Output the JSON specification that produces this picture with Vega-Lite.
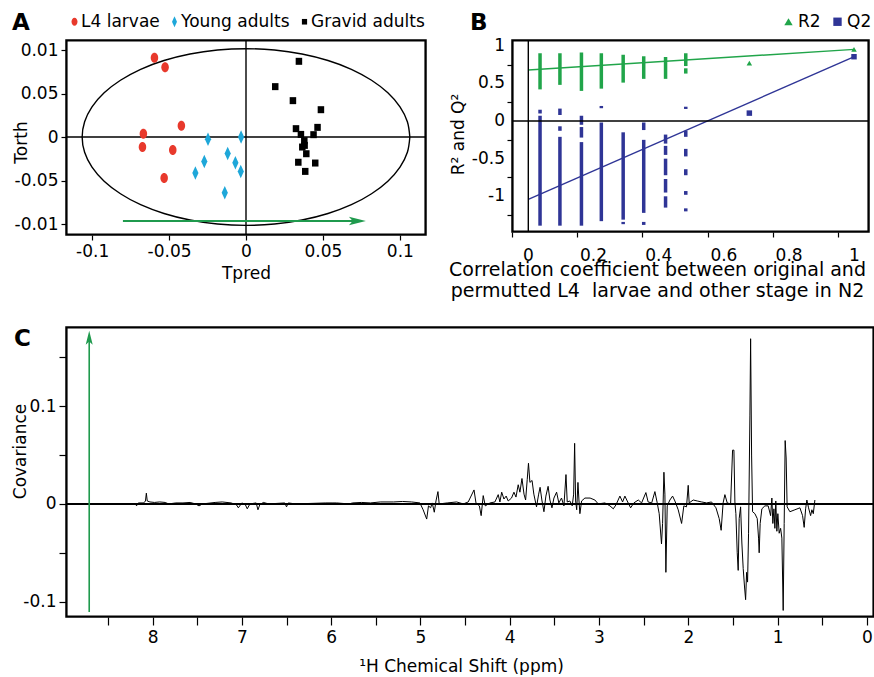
{
  "$schema": "https://vega.github.io/schema/vega-lite/v6.json",
  "padding": {"left": 10, "top": 11, "right": 0, "bottom": 0},
  "background": "white",
  "config": {
    "font": "DejaVu Sans",
    "view": {"stroke": "black", "strokeWidth": 1.5},
    "axis": {"grid": false, "domain": false, "tickColor": "black", "tickWidth": 1.2, "tickSize": 5, "labelFont": "DejaVu Sans", "labelFontSize": 17, "labelColor": "black", "titleFont": "DejaVu Sans", "titleFontSize": 17, "titleFontWeight": "normal", "titleColor": "black", "labelPadding": 3, "labelOverlap": false, "labelBound": false, "labelFlush": false, "titleBaseline": "alphabetic"},
    "legend": {"labelFont": "DejaVu Sans", "labelFontSize": 17, "labelColor": "black", "symbolStrokeWidth": 0, "symbolOpacity": 1, "columnPadding": 8, "labelOffset": 2},
    "title": {"font": "DejaVu Sans", "fontSize": 23, "fontWeight": "bold", "color": "black", "anchor": "start", "frame": "group", "baseline": "alphabetic"}
  },
  "datasets": {
    "ellipse": [
      {"i": 0, "tpred": 0.1065, "torth": 0},
      {"i": 1, "tpred": 0.1049, "torth": 0.0176},
      {"i": 2, "tpred": 0.1001, "torth": 0.0347},
      {"i": 3, "tpred": 0.0922, "torth": 0.0508},
      {"i": 4, "tpred": 0.0816, "torth": 0.0652},
      {"i": 5, "tpred": 0.0685, "torth": 0.0778},
      {"i": 6, "tpred": 0.0533, "torth": 0.0879},
      {"i": 7, "tpred": 0.0364, "torth": 0.0954},
      {"i": 8, "tpred": 0.0185, "torth": 0.1000},
      {"i": 9, "tpred": 0, "torth": 0.1015},
      {"i": 10, "tpred": -0.0185, "torth": 0.1000},
      {"i": 11, "tpred": -0.0364, "torth": 0.0954},
      {"i": 12, "tpred": -0.0533, "torth": 0.0879},
      {"i": 13, "tpred": -0.0685, "torth": 0.0778},
      {"i": 14, "tpred": -0.0816, "torth": 0.0652},
      {"i": 15, "tpred": -0.0922, "torth": 0.0508},
      {"i": 16, "tpred": -0.1001, "torth": 0.0347},
      {"i": 17, "tpred": -0.1049, "torth": 0.0176},
      {"i": 18, "tpred": -0.1065, "torth": 0},
      {"i": 19, "tpred": -0.1049, "torth": -0.0176},
      {"i": 20, "tpred": -0.1001, "torth": -0.0347},
      {"i": 21, "tpred": -0.0922, "torth": -0.0508},
      {"i": 22, "tpred": -0.0816, "torth": -0.0652},
      {"i": 23, "tpred": -0.0685, "torth": -0.0778},
      {"i": 24, "tpred": -0.0533, "torth": -0.0879},
      {"i": 25, "tpred": -0.0364, "torth": -0.0954},
      {"i": 26, "tpred": -0.0185, "torth": -0.1000},
      {"i": 27, "tpred": 0, "torth": -0.1015},
      {"i": 28, "tpred": 0.0185, "torth": -0.1000},
      {"i": 29, "tpred": 0.0364, "torth": -0.0954},
      {"i": 30, "tpred": 0.0533, "torth": -0.0879},
      {"i": 31, "tpred": 0.0685, "torth": -0.0778},
      {"i": 32, "tpred": 0.0816, "torth": -0.0652},
      {"i": 33, "tpred": 0.0922, "torth": -0.0508},
      {"i": 34, "tpred": 0.1001, "torth": -0.0347},
      {"i": 35, "tpred": 0.1049, "torth": -0.0176},
      {"i": 36, "tpred": 0.1065, "torth": 0}
    ],
    "scores": [
      {"stage": "L4 larvae", "tpred": -0.0595, "torth": 0.0911},
      {"stage": "L4 larvae", "tpred": -0.0526, "torth": 0.0801},
      {"stage": "L4 larvae", "tpred": -0.0420, "torth": 0.0130},
      {"stage": "L4 larvae", "tpred": -0.0667, "torth": 0.0038},
      {"stage": "L4 larvae", "tpred": -0.0673, "torth": -0.0115},
      {"stage": "L4 larvae", "tpred": -0.0476, "torth": -0.0149},
      {"stage": "L4 larvae", "tpred": -0.0532, "torth": -0.0471},
      {"stage": "Young adults", "tpred": -0.0247, "torth": -0.0027},
      {"stage": "Young adults", "tpred": -0.0032, "torth": 0.0000},
      {"stage": "Young adults", "tpred": -0.0119, "torth": -0.0190},
      {"stage": "Young adults", "tpred": -0.0271, "torth": -0.0280},
      {"stage": "Young adults", "tpred": -0.0069, "torth": -0.0295},
      {"stage": "Young adults", "tpred": -0.0329, "torth": -0.0414},
      {"stage": "Young adults", "tpred": -0.0034, "torth": -0.0395},
      {"stage": "Young adults", "tpred": -0.0138, "torth": -0.0640},
      {"stage": "Gravid adults", "tpred": 0.0344, "torth": 0.0870},
      {"stage": "Gravid adults", "tpred": 0.0190, "torth": 0.0579},
      {"stage": "Gravid adults", "tpred": 0.0305, "torth": 0.0418},
      {"stage": "Gravid adults", "tpred": 0.0487, "torth": 0.0314},
      {"stage": "Gravid adults", "tpred": 0.0325, "torth": 0.0096},
      {"stage": "Gravid adults", "tpred": 0.0465, "torth": 0.0111},
      {"stage": "Gravid adults", "tpred": 0.0357, "torth": 0.0030},
      {"stage": "Gravid adults", "tpred": 0.0439, "torth": 0.0027},
      {"stage": "Gravid adults", "tpred": 0.0379, "torth": -0.0042},
      {"stage": "Gravid adults", "tpred": 0.0381, "torth": -0.0096},
      {"stage": "Gravid adults", "tpred": 0.0366, "torth": -0.0115},
      {"stage": "Gravid adults", "tpred": 0.0392, "torth": -0.0192},
      {"stage": "Gravid adults", "tpred": 0.0340, "torth": -0.0290},
      {"stage": "Gravid adults", "tpred": 0.0450, "torth": -0.0299},
      {"stage": "Gravid adults", "tpred": 0.0385, "torth": -0.0395}
    ],
    "r2seg": [
      {"r": 0.036, "value": 0.42, "value2": 0.90},
      {"r": 0.097, "value": 0.48, "value2": 0.90},
      {"r": 0.163, "value": 0.40, "value2": 0.91},
      {"r": 0.224, "value": 0.43, "value2": 0.90},
      {"r": 0.291, "value": 0.51, "value2": 0.88},
      {"r": 0.354, "value": 0.56, "value2": 0.86},
      {"r": 0.421, "value": 0.56, "value2": 0.85},
      {"r": 0.483, "value": 0.63, "value2": 0.70},
      {"r": 0.483, "value": 0.73, "value2": 0.90}
    ],
    "q2seg": [
      {"r": 0.036, "value": 0.10, "value2": 0.15},
      {"r": 0.036, "value": -1.39, "value2": 0.07},
      {"r": 0.097, "value": 0.08, "value2": 0.165},
      {"r": 0.097, "value": -0.13, "value2": -0.07},
      {"r": 0.097, "value": -1.39, "value2": -0.21},
      {"r": 0.163, "value": -0.05, "value2": 0.07},
      {"r": 0.163, "value": -0.22, "value2": -0.08},
      {"r": 0.163, "value": -1.39, "value2": -0.28},
      {"r": 0.224, "value": 0.17, "value2": 0.20},
      {"r": 0.224, "value": -1.33, "value2": -0.02},
      {"r": 0.291, "value": -1.31, "value2": -0.15},
      {"r": 0.291, "value": -1.37, "value2": -1.34},
      {"r": 0.354, "value": -0.12, "value2": -0.02},
      {"r": 0.354, "value": -1.22, "value2": -0.25},
      {"r": 0.354, "value": -1.38, "value2": -1.34},
      {"r": 0.421, "value": -0.30, "value2": -0.18},
      {"r": 0.421, "value": -0.45, "value2": -0.33},
      {"r": 0.421, "value": -0.72, "value2": -0.50},
      {"r": 0.421, "value": -0.95, "value2": -0.77},
      {"r": 0.421, "value": -1.15, "value2": -1.00},
      {"r": 0.483, "value": 0.16, "value2": 0.19},
      {"r": 0.483, "value": -0.21, "value2": -0.13},
      {"r": 0.483, "value": -0.47, "value2": -0.37},
      {"r": 0.483, "value": -0.72, "value2": -0.64},
      {"r": 0.483, "value": -0.98, "value2": -0.93},
      {"r": 0.483, "value": -1.20, "value2": -1.16}
    ],
    "perm": [
      {"series": "R2", "r": 0.678, "value": 0.77},
      {"series": "R2", "r": 0.999, "value": 0.952},
      {"series": "Q2", "r": 0.678, "value": 0.105},
      {"series": "Q2", "r": 0.999, "value": 0.854}
    ],
    "fits": [
      {"series": "R2", "r": 0, "value": 0.677},
      {"series": "R2", "r": 1, "value": 0.952},
      {"series": "Q2", "r": 0, "value": -1.04},
      {"series": "Q2", "r": 1, "value": 0.854}
    ],
    "bxticks": [
      {"tick": 0, "label": "0"}, {"tick": 0.2, "label": "0.2"}, {"tick": 0.4, "label": "0.4"},
      {"tick": 0.6, "label": "0.6"}, {"tick": 0.8, "label": "0.8"}, {"tick": 1, "label": "1"}
    ],
    "byticks": [
      {"tick": -1, "label": "-1"}, {"tick": -0.5, "label": "-0.5"}, {"tick": 0, "label": "0"},
      {"tick": 0.5, "label": "0.5"}, {"tick": 1, "label": "1"}
    ],
    "spectrum": [
      {"ppm": 8.19, "cov": 0}, {"ppm": 8.18, "cov": -0.002}, {"ppm": 8.16, "cov": 0.001}, {"ppm": 8.1, "cov": 0.001},
      {"ppm": 8.08, "cov": 0.003}, {"ppm": 8.07, "cov": 0.011}, {"ppm": 8.06, "cov": 0.003}, {"ppm": 8.03, "cov": 0.002},
      {"ppm": 7.98, "cov": 0.0015}, {"ppm": 7.92, "cov": 0.002}, {"ppm": 7.86, "cov": 0.0015}, {"ppm": 7.82, "cov": 0},
      {"ppm": 7.74, "cov": 0.001}, {"ppm": 7.66, "cov": 0.001}, {"ppm": 7.58, "cov": 0.0015}, {"ppm": 7.52, "cov": 0},
      {"ppm": 7.48, "cov": -0.002}, {"ppm": 7.44, "cov": 0}, {"ppm": 7.3, "cov": 0.0015}, {"ppm": 7.22, "cov": 0.002},
      {"ppm": 7.12, "cov": 0.001}, {"ppm": 7.06, "cov": -0.001}, {"ppm": 7.04, "cov": -0.004}, {"ppm": 7.0, "cov": 0.001},
      {"ppm": 6.96, "cov": -0.001}, {"ppm": 6.94, "cov": -0.005}, {"ppm": 6.91, "cov": 0}, {"ppm": 6.84, "cov": 0.001},
      {"ppm": 6.82, "cov": -0.006}, {"ppm": 6.8, "cov": -0.001}, {"ppm": 6.76, "cov": 0.0015}, {"ppm": 6.7, "cov": 0},
      {"ppm": 6.52, "cov": 0.001}, {"ppm": 6.5, "cov": -0.003}, {"ppm": 6.48, "cov": 0.001}, {"ppm": 6.4, "cov": 0},
      {"ppm": 6.06, "cov": 0.001}, {"ppm": 5.98, "cov": 0.001}, {"ppm": 5.94, "cov": 0.001}, {"ppm": 5.8, "cov": 0},
      {"ppm": 5.76, "cov": 0.001}, {"ppm": 5.66, "cov": 0.0015}, {"ppm": 5.56, "cov": 0.001}, {"ppm": 5.45, "cov": 0.002},
      {"ppm": 5.3, "cov": 0.002}, {"ppm": 5.2, "cov": 0.0025}, {"ppm": 5.1, "cov": 0.002}, {"ppm": 5.006, "cov": 0.001},
      {"ppm": 4.97, "cov": -0.006}, {"ppm": 4.93, "cov": -0.0155}, {"ppm": 4.91, "cov": -0.002}, {"ppm": 4.886, "cov": -0.004},
      {"ppm": 4.868, "cov": 0.001}, {"ppm": 4.845, "cov": -0.0085}, {"ppm": 4.826, "cov": 0.003}, {"ppm": 4.804, "cov": 0.0126},
      {"ppm": 4.79, "cov": 0}, {"ppm": 4.7, "cov": 0.001}, {"ppm": 4.595, "cov": 0.002}, {"ppm": 4.52, "cov": 0},
      {"ppm": 4.465, "cov": 0.002}, {"ppm": 4.40, "cov": 0.0143}, {"ppm": 4.378, "cov": 0.001}, {"ppm": 4.34, "cov": -0.002},
      {"ppm": 4.32, "cov": -0.012}, {"ppm": 4.297, "cov": 0.0085}, {"ppm": 4.274, "cov": -0.002}, {"ppm": 4.22, "cov": 0.001},
      {"ppm": 4.166, "cov": 0.002}, {"ppm": 4.129, "cov": 0.0095}, {"ppm": 4.11, "cov": 0.002}, {"ppm": 4.09, "cov": 0.012},
      {"ppm": 4.065, "cov": 0.005}, {"ppm": 4.04, "cov": 0.008}, {"ppm": 4.017, "cov": 0.003}, {"ppm": 3.98, "cov": 0.006},
      {"ppm": 3.953, "cov": 0.012}, {"ppm": 3.93, "cov": 0.007}, {"ppm": 3.905, "cov": 0.0196}, {"ppm": 3.886, "cov": 0.012},
      {"ppm": 3.863, "cov": 0.026}, {"ppm": 3.84, "cov": 0.01}, {"ppm": 3.822, "cov": 0.004}, {"ppm": 3.804, "cov": 0.025},
      {"ppm": 3.79, "cov": 0.0416}, {"ppm": 3.774, "cov": 0.022}, {"ppm": 3.75, "cov": 0.024}, {"ppm": 3.73, "cov": 0.01},
      {"ppm": 3.70, "cov": -0.003}, {"ppm": 3.676, "cov": 0.01}, {"ppm": 3.66, "cov": 0.017}, {"ppm": 3.64, "cov": 0.004},
      {"ppm": 3.617, "cov": -0.008}, {"ppm": 3.595, "cov": 0.008}, {"ppm": 3.57, "cov": 0.018}, {"ppm": 3.55, "cov": 0.004},
      {"ppm": 3.527, "cov": -0.004}, {"ppm": 3.505, "cov": 0.006}, {"ppm": 3.475, "cov": 0.012}, {"ppm": 3.45, "cov": 0.001},
      {"ppm": 3.42, "cov": 0.006}, {"ppm": 3.393, "cov": -0.002}, {"ppm": 3.37, "cov": 0.030}, {"ppm": 3.356, "cov": 0.002},
      {"ppm": 3.326, "cov": 0.003}, {"ppm": 3.30, "cov": -0.002}, {"ppm": 3.284, "cov": 0.01}, {"ppm": 3.273, "cov": 0.062},
      {"ppm": 3.262, "cov": 0.003}, {"ppm": 3.25, "cov": -0.006}, {"ppm": 3.236, "cov": 0.022}, {"ppm": 3.225, "cov": 0.004},
      {"ppm": 3.214, "cov": -0.010}, {"ppm": 3.195, "cov": 0.003}, {"ppm": 3.158, "cov": 0.006}, {"ppm": 3.10, "cov": 0.006},
      {"ppm": 3.046, "cov": 0.004}, {"ppm": 3.009, "cov": 0}, {"ppm": 2.934, "cov": 0.001}, {"ppm": 2.878, "cov": -0.002},
      {"ppm": 2.84, "cov": -0.005}, {"ppm": 2.81, "cov": -0.001}, {"ppm": 2.766, "cov": 0.008}, {"ppm": 2.736, "cov": 0.002},
      {"ppm": 2.71, "cov": 0.008}, {"ppm": 2.684, "cov": 0.003}, {"ppm": 2.646, "cov": -0.004}, {"ppm": 2.61, "cov": 0.001},
      {"ppm": 2.56, "cov": 0.004}, {"ppm": 2.523, "cov": 0.001}, {"ppm": 2.475, "cov": 0.0116}, {"ppm": 2.45, "cov": 0.002},
      {"ppm": 2.41, "cov": 0.001}, {"ppm": 2.374, "cov": 0.0126}, {"ppm": 2.348, "cov": 0.001}, {"ppm": 2.326, "cov": -0.01},
      {"ppm": 2.30, "cov": -0.041}, {"ppm": 2.288, "cov": -0.02}, {"ppm": 2.273, "cov": 0.0324}, {"ppm": 2.262, "cov": 0.01},
      {"ppm": 2.251, "cov": -0.070}, {"ppm": 2.236, "cov": -0.002}, {"ppm": 2.206, "cov": 0.004}, {"ppm": 2.176, "cov": 0.008},
      {"ppm": 2.15, "cov": 0.003}, {"ppm": 2.113, "cov": -0.006}, {"ppm": 2.075, "cov": -0.020}, {"ppm": 2.05, "cov": -0.002},
      {"ppm": 2.02, "cov": -0.003}, {"ppm": 2.001, "cov": 0.019}, {"ppm": 1.99, "cov": 0.001}, {"ppm": 1.945, "cov": 0.004},
      {"ppm": 1.90, "cov": 0.003}, {"ppm": 1.85, "cov": 0.002}, {"ppm": 1.795, "cov": 0.001}, {"ppm": 1.74, "cov": 0.002},
      {"ppm": 1.69, "cov": -0.004}, {"ppm": 1.654, "cov": -0.015}, {"ppm": 1.632, "cov": -0.027}, {"ppm": 1.61, "cov": 0.001},
      {"ppm": 1.59, "cov": 0.0095}, {"ppm": 1.564, "cov": 0.001}, {"ppm": 1.526, "cov": 0}, {"ppm": 1.504, "cov": 0.055},
      {"ppm": 1.489, "cov": 0.055}, {"ppm": 1.478, "cov": 0.002}, {"ppm": 1.467, "cov": -0.01}, {"ppm": 1.452, "cov": -0.05},
      {"ppm": 1.441, "cov": -0.068}, {"ppm": 1.43, "cov": -0.015}, {"ppm": 1.414, "cov": -0.003}, {"ppm": 1.40, "cov": -0.04},
      {"ppm": 1.385, "cov": -0.066}, {"ppm": 1.37, "cov": -0.085}, {"ppm": 1.358, "cov": -0.098}, {"ppm": 1.347, "cov": -0.07},
      {"ppm": 1.336, "cov": -0.08}, {"ppm": 1.325, "cov": -0.03}, {"ppm": 1.31, "cov": 0.09}, {"ppm": 1.302, "cov": 0.169},
      {"ppm": 1.291, "cov": 0.05}, {"ppm": 1.28, "cov": -0.008}, {"ppm": 1.254, "cov": -0.01}, {"ppm": 1.228, "cov": -0.015},
      {"ppm": 1.213, "cov": -0.035}, {"ppm": 1.206, "cov": -0.050}, {"ppm": 1.195, "cov": -0.02}, {"ppm": 1.176, "cov": -0.005},
      {"ppm": 1.142, "cov": -0.002}, {"ppm": 1.105, "cov": -0.002}, {"ppm": 1.078, "cov": -0.012}, {"ppm": 1.064, "cov": 0.006},
      {"ppm": 1.053, "cov": -0.02}, {"ppm": 1.041, "cov": -0.005}, {"ppm": 1.03, "cov": -0.025}, {"ppm": 1.02, "cov": 0.003},
      {"ppm": 1.008, "cov": -0.028}, {"ppm": 0.997, "cov": -0.01}, {"ppm": 0.982, "cov": -0.03}, {"ppm": 0.966, "cov": -0.025},
      {"ppm": 0.952, "cov": -0.035}, {"ppm": 0.937, "cov": -0.109}, {"ppm": 0.926, "cov": -0.02}, {"ppm": 0.915, "cov": 0.0648},
      {"ppm": 0.904, "cov": 0.047}, {"ppm": 0.893, "cov": -0.003}, {"ppm": 0.862, "cov": -0.008}, {"ppm": 0.806, "cov": -0.006},
      {"ppm": 0.75, "cov": -0.004}, {"ppm": 0.72, "cov": -0.012}, {"ppm": 0.702, "cov": -0.024}, {"ppm": 0.686, "cov": -0.005},
      {"ppm": 0.672, "cov": 0.004}, {"ppm": 0.653, "cov": -0.004}, {"ppm": 0.63, "cov": -0.012}, {"ppm": 0.616, "cov": -0.006},
      {"ppm": 0.60, "cov": -0.01}, {"ppm": 0.582, "cov": 0.004}
    ]
  },
  "vconcat": [
    {
      "hconcat": [
        {
          "width": 360,
          "height": 195,
          "title": {"text": "A", "dx": -54, "dy": 25, "offset": 3},
          "layer": [
            {
              "data": {"name": "ellipse"},
              "mark": {"type": "line", "color": "black", "strokeWidth": 1.4, "interpolate": "catmull-rom"},
              "encoding": {
                "x": {"field": "tpred", "type": "quantitative", "title": "Tpred",
                  "scale": {"domain": [-0.117, 0.117], "nice": false, "zero": false},
                  "axis": {"values": [-0.1, -0.05, 0, 0.05, 0.1],
                    "labelExpr": "(datum.value < 0 ? '-' : '') + format(abs(datum.value), '~g')",
                    "titleX": 180, "titleY": 43, "labelPadding": 3}},
                "y": {"field": "torth", "type": "quantitative", "title": "Torth",
                  "scale": {"domain": [-0.1126, 0.1115], "nice": false, "zero": false},
                  "axis": {"values": [-0.1, -0.075, -0.05, -0.025, 0, 0.025, 0.05, 0.075, 0.1],
                    "labelExpr": "datum.value == 0.1 ? '0.01' : datum.value == -0.1 ? '-0.01' : (datum.value == 0.05 || datum.value == -0.05 || datum.value == 0) ? (datum.value < 0 ? '-' : '') + format(abs(datum.value), '~g') : ''",
                    "titleX": -40, "titleY": 102}},
                "order": {"field": "i", "type": "quantitative"}
              }
            },
            {"data": {"values": [{}]}, "mark": {"type": "rule", "color": "black", "strokeWidth": 1.4}, "encoding": {"x": {"datum": 0, "type": "quantitative"}}},
            {"data": {"values": [{}]}, "mark": {"type": "rule", "color": "black", "strokeWidth": 1.4}, "encoding": {"y": {"datum": 0, "type": "quantitative"}}},
            {
              "data": {"values": [{}]},
              "mark": {"type": "rule", "color": "#1f9a4d", "strokeWidth": 2},
              "encoding": {"x": {"datum": -0.080, "type": "quantitative"}, "x2": {"datum": 0.072}, "y": {"datum": -0.0966, "type": "quantitative"}}
            },
            {
              "data": {"values": [{}]},
              "mark": {"type": "point", "filled": true, "color": "#1f9a4d", "opacity": 1, "size": 289, "shape": "M-1,-0.5 L1,0 L-1,0.5 L-0.55,0 Z"},
              "encoding": {"x": {"datum": 0.0724, "type": "quantitative"}, "y": {"datum": -0.0966, "type": "quantitative"}}
            },
            {
              "data": {"name": "scores"},
              "mark": {"type": "point", "filled": true, "opacity": 1, "size": 100, "strokeWidth": 0},
              "encoding": {
                "x": {"field": "tpred", "type": "quantitative", "title": "Tpred"},
                "y": {"field": "torth", "type": "quantitative", "title": "Torth"},
                "color": {"field": "stage", "type": "nominal",
                  "scale": {"domain": ["L4 larvae", "Young adults", "Gravid adults"], "range": ["#e8392c", "#1ea7d9", "#000000"]},
                  "legend": {"title": null, "orient": "none", "legendX": 0, "legendY": -27, "direction": "horizontal", "symbolSize": 64, "labelOffset": -2, "columnPadding": 6}},
                "shape": {"field": "stage", "type": "nominal",
                  "scale": {"domain": ["L4 larvae", "Young adults", "Gravid adults"], "range": ["M0,-1 A0.75,1 0 1,1 0,1 A0.75,1 0 1,1 0,-1 Z", "M0,-1.35 L0.62,0 L0,1.35 L-0.62,0 Z", "M-0.65,-0.7 L0.65,-0.7 L0.65,0.7 L-0.65,0.7 Z"]},
                  "legend": {"title": null, "orient": "none", "legendX": 0, "legendY": -27, "direction": "horizontal", "symbolSize": 64, "labelOffset": -2, "columnPadding": 6}}
              }
            },
            {"data": {"values": [{}]}, "mark": {"type": "rule", "color": "black", "strokeWidth": 1.6}, "encoding": {"x": {"datum": -0.11648, "type": "quantitative"}}},
            {"data": {"values": [{}]}, "mark": {"type": "rule", "color": "black", "strokeWidth": 1.6}, "encoding": {"x": {"datum": 0.11648, "type": "quantitative"}}},
            {"data": {"values": [{}]}, "mark": {"type": "rule", "color": "black", "strokeWidth": 1.6}, "encoding": {"y": {"datum": -0.11168, "type": "quantitative"}}},
            {"data": {"values": [{}]}, "mark": {"type": "rule", "color": "black", "strokeWidth": 1.6}, "encoding": {"y": {"datum": 0.11058, "type": "quantitative"}}}
          ]
        },
        {
          "width": 357,
          "height": 192,
          "title": {"text": "B", "dx": -42, "dy": 25, "offset": 3},
          "layer": [
            {
              "data": {"name": "fits"},
              "transform": [{"filter": "datum.series == 'R2'"}],
              "mark": {"type": "line", "color": "#21a54a", "strokeWidth": 1.4},
              "encoding": {
                "x": {"field": "r", "type": "quantitative",
                  "title": ["Correlation coefficient between original and", "permutted L4\u00a0 larvae and other stage in N2"],
                  "scale": {"domain": [-0.05, 1.045], "nice": false, "zero": false},
                  "axis": {"values": [-0.05, 0, 0.05, 0.1, 0.15, 0.2, 0.25, 0.3, 0.35, 0.4, 0.45, 0.5, 0.55, 0.6, 0.65, 0.7, 0.75, 0.8, 0.85, 0.9, 0.95, 1],
                    "labels": false,
                    "titleX": 145, "titleY": 43, "titleLineHeight": 21, "titleFontSize": 19}},
                "y": {"field": "value", "type": "quantitative", "title": "R² and Q²",
                  "scale": {"domain": [-1.474, 1.076], "nice": false, "zero": false},
                  "axis": {"values": [-1.25, -1, -0.75, -0.5, -0.25, 0, 0.25, 0.5, 0.75, 1],
                    "labels": false, "titleX": -49, "titleY": 94}}
              }
            },
            {
              "data": {"name": "r2seg"},
              "mark": {"type": "rule", "color": "#21a54a", "strokeWidth": 3.5},
              "encoding": {
                "x": {"field": "r", "type": "quantitative", "title": ["Correlation coefficient between original and", "permutted L4\u00a0 larvae and other stage in N2"]},
                "y": {"field": "value", "type": "quantitative", "title": "R² and Q²"},
                "y2": {"field": "value2"}
              }
            },
            {
              "data": {"name": "q2seg"},
              "mark": {"type": "rule", "color": "#2f3596", "strokeWidth": 3.5},
              "encoding": {
                "x": {"field": "r", "type": "quantitative", "title": ["Correlation coefficient between original and", "permutted L4\u00a0 larvae and other stage in N2"]},
                "y": {"field": "value", "type": "quantitative", "title": "R² and Q²"},
                "y2": {"field": "value2"}
              }
            },
            {
              "data": {"name": "fits"},
              "transform": [{"filter": "datum.series == 'Q2'"}],
              "mark": {"type": "line", "color": "#2f3596", "strokeWidth": 1.4},
              "encoding": {
                "x": {"field": "r", "type": "quantitative", "title": ["Correlation coefficient between original and", "permutted L4\u00a0 larvae and other stage in N2"]},
                "y": {"field": "value", "type": "quantitative", "title": "R² and Q²"}
              }
            },
            {
              "data": {"name": "perm"},
              "mark": {"type": "point", "filled": true, "opacity": 1, "size": 30, "strokeWidth": 0},
              "encoding": {
                "x": {"field": "r", "type": "quantitative", "title": ["Correlation coefficient between original and", "permutted L4\u00a0 larvae and other stage in N2"]},
                "y": {"field": "value", "type": "quantitative", "title": "R² and Q²"},
                "color": {"field": "series", "type": "nominal",
                  "scale": {"domain": ["R2", "Q2"], "range": ["#21a54a", "#2f3596"]},
                  "legend": {"title": null, "orient": "none", "legendX": 268, "legendY": -27, "direction": "horizontal", "symbolSize": 70, "labelOffset": 1, "columnPadding": 8}},
                "shape": {"field": "series", "type": "nominal",
                  "scale": {"domain": ["R2", "Q2"], "range": ["triangle-up", "square"]},
                  "legend": {"title": null, "orient": "none", "legendX": 268, "legendY": -27, "direction": "horizontal", "symbolSize": 70, "labelOffset": 1, "columnPadding": 8}}
              }
            },
            {
              "data": {"name": "bxticks"},
              "mark": {"type": "text", "font": "DejaVu Sans", "fontSize": 17, "color": "black", "align": "center", "baseline": "top", "dy": 16},
              "encoding": {
                "x": {"field": "tick", "type": "quantitative", "title": ["Correlation coefficient between original and", "permutted L4\u00a0 larvae and other stage in N2"]},
                "y": {"datum": -1.474, "type": "quantitative"},
                "text": {"field": "label", "type": "nominal"}
              }
            },
            {
              "data": {"name": "byticks"},
              "mark": {"type": "text", "font": "DejaVu Sans", "fontSize": 17, "color": "black", "align": "right", "baseline": "middle", "dx": -7},
              "encoding": {
                "x": {"datum": -0.05, "type": "quantitative"},
                "y": {"field": "tick", "type": "quantitative", "title": "R² and Q²"},
                "text": {"field": "label", "type": "nominal"}
              }
            },
            {"data": {"values": [{}]}, "mark": {"type": "rule", "color": "black", "strokeWidth": 1.4}, "encoding": {"y": {"datum": 0, "type": "quantitative"}}},
            {"data": {"values": [{}]}, "mark": {"type": "rule", "color": "black", "strokeWidth": 1.4}, "encoding": {"x": {"datum": 0, "type": "quantitative"}}},
            {"data": {"values": [{}]}, "mark": {"type": "rule", "color": "black", "strokeWidth": 1.6}, "encoding": {"x": {"datum": -0.0475, "type": "quantitative"}}},
            {"data": {"values": [{}]}, "mark": {"type": "rule", "color": "black", "strokeWidth": 1.6}, "encoding": {"x": {"datum": 1.04255, "type": "quantitative"}}},
            {"data": {"values": [{}]}, "mark": {"type": "rule", "color": "black", "strokeWidth": 1.6}, "encoding": {"y": {"datum": -1.4634, "type": "quantitative"}}},
            {"data": {"values": [{}]}, "mark": {"type": "rule", "color": "black", "strokeWidth": 1.6}, "encoding": {"y": {"datum": 1.0654, "type": "quantitative"}}}
          ]
        }
      ],
      "spacing": 86,
      "bounds": "flush",
      "resolve": {"scale": {"color": "independent", "shape": "independent"}, "legend": {"color": "independent", "shape": "independent"}}
    },
    {
      "width": 808,
      "height": 290,
      "title": {"text": "C", "dx": -52, "offset": -25},
      "layer": [
        {
          "data": {"name": "spectrum"},
          "mark": {"type": "line", "color": "black", "strokeWidth": 1},
          "encoding": {
            "x": {"field": "ppm", "type": "quantitative", "title": "¹H Chemical Shift (ppm)",
              "scale": {"domain": [-0.08, 8.97], "nice": false, "zero": false, "reverse": true},
              "axis": {"values": [0, 0.5, 1, 1.5, 2, 2.5, 3, 3.5, 4, 4.5, 5, 5.5, 6, 6.5, 7, 7.5, 8, 8.5],
                "labelExpr": "datum.value % 1 == 0 ? format(datum.value, 'd') : ''",
                "tickSize": 8, "labelPadding": 4, "titleX": 395, "titleY": 54}},
            "y": {"field": "cov", "type": "quantitative", "title": "Covariance",
              "scale": {"domain": [-0.1157, 0.181], "nice": false, "zero": false},
              "axis": {"values": [-0.1, -0.075, -0.05, -0.025, 0, 0.025, 0.05, 0.075, 0.1, 0.125, 0.15, 0.175],
                "labelExpr": "indexof([-0.1, 0, 0.1], datum.value) >= 0 ? (datum.value < 0 ? '-' : '') + format(abs(datum.value), '~g') : ''",
                "tickSize": 7, "labelPadding": 3, "titleX": -41, "titleY": 124}}
          }
        },
        {"data": {"values": [{}]}, "mark": {"type": "rule", "color": "black", "strokeWidth": 2}, "encoding": {"y": {"datum": 0, "type": "quantitative"}}},
        {
          "data": {"values": [{}]},
          "mark": {"type": "rule", "color": "#1f9a4d", "strokeWidth": 1.6},
          "encoding": {"x": {"datum": 8.71, "type": "quantitative"}, "y": {"datum": -0.1105, "type": "quantitative"}, "y2": {"datum": 0.168}}
        },
        {
          "data": {"values": [{}]},
          "mark": {"type": "point", "filled": true, "color": "#1f9a4d", "opacity": 1, "size": 196, "shape": "M-0.5,1 L0,-1 L0.5,1 L0,0.55 Z"},
          "encoding": {"x": {"datum": 8.71, "type": "quantitative"}, "y": {"datum": 0.170, "type": "quantitative"}}
        },
        {"data": {"values": [{}]}, "mark": {"type": "rule", "color": "black", "strokeWidth": 1.6}, "encoding": {"x": {"datum": 8.961, "type": "quantitative"}}},
        {"data": {"values": [{}]}, "mark": {"type": "rule", "color": "black", "strokeWidth": 1.6}, "encoding": {"x": {"datum": -0.071, "type": "quantitative"}}},
        {"data": {"values": [{}]}, "mark": {"type": "rule", "color": "black", "strokeWidth": 1.6}, "encoding": {"y": {"datum": -0.11488, "type": "quantitative"}}},
        {"data": {"values": [{}]}, "mark": {"type": "rule", "color": "black", "strokeWidth": 1.6}, "encoding": {"y": {"datum": 0.18018, "type": "quantitative"}}}
      ]
    }
  ],
  "spacing": 287,
  "bounds": "flush"
}
